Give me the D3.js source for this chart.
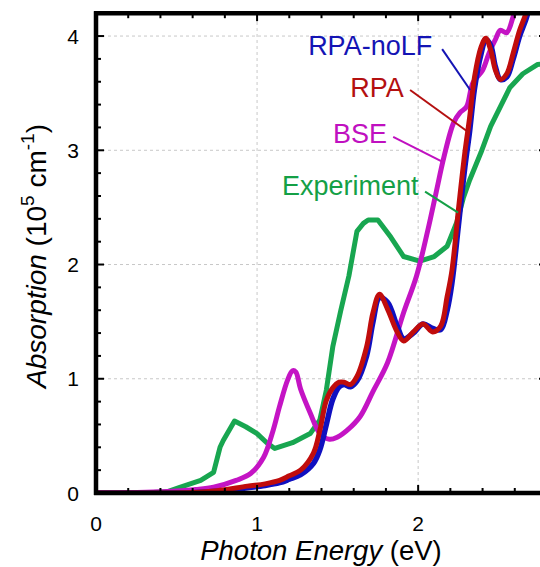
<!DOCTYPE html>
<html>
<head>
<meta charset="utf-8">
<script src="https://cdn.jsdelivr.net/npm/d3@7"></script>
<style>
  html, body { margin: 0; padding: 0; background: #fff; }
  svg { display: block; font-family: "Liberation Sans", Arial, Helvetica, sans-serif; }
</style>
</head>
<body>
<svg id="chart" width="540" height="567"></svg>
<script>
// Absorption spectra: measured vs. computed (RPA without local fields, RPA, BSE)

// Experiment
const expEnergy = [0, 0.30, 0.44, 0.52, 0.65, 0.73, 0.77, 0.79, 0.86, 0.93, 1.00, 1.06, 1.11, 1.22,
  1.33, 1.39, 1.43, 1.47, 1.52, 1.57, 1.62, 1.66, 1.69, 1.75, 1.83, 1.91, 2.01, 2.10, 2.18, 2.24,
  2.28, 2.32, 2.39, 2.45, 2.51, 2.57, 2.65, 2.74, 2.80];
const expAbs = [0, 0, 0.01, 0.05, 0.11, 0.18, 0.40, 0.46, 0.63, 0.58, 0.52, 0.44, 0.39, 0.44,
  0.52, 0.64, 0.90, 1.28, 1.60, 1.90, 2.29, 2.36, 2.39, 2.39, 2.24, 2.07, 2.03, 2.07, 2.16, 2.37,
  2.58, 2.74, 2.98, 3.21, 3.38, 3.55, 3.67, 3.75, 3.76];

// BSE
const bseEnergy = [0, 0.20, 0.40, 0.52, 0.62, 0.73, 0.87, 0.96, 1.04, 1.10, 1.14, 1.19, 1.22, 1.24, 1.27,
  1.33, 1.39, 1.45, 1.50, 1.56, 1.64, 1.72, 1.81, 1.91, 1.99, 2.06, 2.11, 2.16, 2.22, 2.26, 2.30, 2.34,
  2.40, 2.44, 2.48, 2.51, 2.55, 2.59, 2.63];
const bseAbs = [0, 0.002, 0.01, 0.02, 0.03, 0.05, 0.11, 0.17, 0.31, 0.55, 0.76, 0.99, 1.07, 1.06, 0.91,
  0.70, 0.52, 0.47, 0.49, 0.55, 0.67, 0.89, 1.14, 1.58, 1.90, 2.30, 2.62, 2.94, 3.24, 3.33, 3.38, 3.59,
  3.70, 3.85, 3.97, 4.05, 4.03, 4.17, 4.35];

// RPA and RPA-noLF share the energy grid
const rpaEnergy = [0, 0.30, 0.60, 0.75, 0.94, 1.05, 1.14, 1.20, 1.27, 1.35, 1.39, 1.43, 1.47, 1.51, 1.54, 1.58,
  1.62, 1.68, 1.72, 1.76, 1.81, 1.87, 1.91, 1.97, 2.03, 2.09, 2.14, 2.18, 2.21, 2.25, 2.29, 2.32, 2.35,
  2.39, 2.42, 2.45, 2.48, 2.51, 2.55, 2.59, 2.63, 2.67, 2.70];
const rpaAbs = [0, 0, 0.005, 0.02, 0.06, 0.08, 0.11, 0.15, 0.20, 0.35, 0.55, 0.81, 0.92, 0.97, 0.97, 0.95,
  1.02, 1.28, 1.58, 1.74, 1.61, 1.41, 1.33, 1.41, 1.48, 1.41, 1.46, 1.72, 1.95, 2.48, 2.98, 3.29, 3.64,
  3.90, 3.98, 3.88, 3.70, 3.62, 3.67, 3.85, 4.05, 4.20, 4.35];
const noLFAbs = [0, 0, 0.003, 0.015, 0.045, 0.065, 0.09, 0.12, 0.16, 0.26, 0.38, 0.60, 0.82, 0.93, 0.95, 0.93,
  0.98, 1.20, 1.50, 1.71, 1.67, 1.46, 1.35, 1.40, 1.48, 1.44, 1.43, 1.60, 1.84, 2.34, 2.85, 3.17, 3.54,
  3.84, 3.97, 3.92, 3.73, 3.62, 3.64, 3.80, 4.00, 4.15, 4.30];

// Axis ticks
const xTicks = [0, 1, 2];
const yTicks = [0, 1, 2, 3, 4];

// Series labels with leader lines (data units)
const labelText = ["RPA-noLF", "RPA", "BSE", "Experiment"];
const labelColor = ["#1414b4", "#b41010", "#c010c0", "#14a046"];
const labelPos = [[1.317, 3.834], [1.578, 3.467], [1.472, 3.066], [1.155, 2.611]];
const leaderFrom = [[2.149, 3.886], [1.950, 3.528], [1.845, 3.118], [2.043, 2.638]];
const leaderTo = [[2.323, 3.528], [2.317, 3.153], [2.149, 2.900], [2.248, 2.454]];

const svg = d3.select("#chart");
const plotLeft = 96, plotRight = 547, plotTop = 13.2, plotBottom = 493;

const x = d3.scaleLinear().domain([0, 2.8]).range([plotLeft, plotRight]);
const y = d3.scaleLinear().domain([0, 4.2]).range([plotBottom, plotTop]);

svg.append("rect").attr("width", 540).attr("height", 567).attr("fill", "#fff");

// grid
const grid = svg.append("g").attr("stroke", "#c8c8c8").attr("stroke-width", 1).attr("stroke-dasharray", "3,3");
[1, 2].forEach(v => grid.append("line").attr("x1", x(v)).attr("x2", x(v)).attr("y1", plotBottom).attr("y2", plotTop));
[1, 2, 3, 4].forEach(v => grid.append("line").attr("x1", plotLeft).attr("x2", plotRight).attr("y1", y(v)).attr("y2", y(v)));

// curves
svg.append("defs").append("clipPath").attr("id", "plotClip")
  .append("rect").attr("x", plotLeft).attr("y", plotTop).attr("width", plotRight - plotLeft).attr("height", plotBottom - plotTop);

const plot = svg.append("g").attr("clip-path", "url(#plotClip)");
const smooth = d3.line().x(d => x(d[0])).y(d => y(d[1])).curve(d3.curveCatmullRom.alpha(0.5));
const straight = d3.line().x(d => x(d[0])).y(d => y(d[1])).curve(d3.curveLinear);

const zip = (a, b) => a.map((v, i) => [v, b[i]]);

plot.append("path").datum(zip(expEnergy, expAbs)).attr("d", straight)
  .attr("fill", "none").attr("stroke", "#18a650").attr("stroke-width", 5).attr("stroke-linejoin", "round");
plot.append("path").datum(zip(bseEnergy, bseAbs)).attr("d", smooth)
  .attr("fill", "none").attr("stroke", "#c414c4").attr("stroke-width", 5).attr("stroke-linejoin", "round");
plot.append("path").datum(zip(rpaEnergy, noLFAbs)).attr("d", smooth)
  .attr("fill", "none").attr("stroke", "#1010c0").attr("stroke-width", 5.5).attr("stroke-linejoin", "round");
plot.append("path").datum(zip(rpaEnergy, rpaAbs)).attr("d", smooth)
  .attr("fill", "none").attr("stroke", "#c00c0c").attr("stroke-width", 5).attr("stroke-linejoin", "round");

// leader lines and labels
labelText.forEach((t, i) => {
  svg.append("line")
    .attr("x1", x(leaderFrom[i][0])).attr("y1", y(leaderFrom[i][1]))
    .attr("x2", x(leaderTo[i][0])).attr("y2", y(leaderTo[i][1]))
    .attr("stroke", labelColor[i]).attr("stroke-width", 2);
  svg.append("text").attr("x", x(labelPos[i][0])).attr("y", y(labelPos[i][1]))
    .attr("fill", labelColor[i]).attr("font-size", 27).text(t);
});

// frame and ticks
const frame = svg.append("g").attr("stroke", "#000").attr("fill", "none");
frame.append("line").attr("x1", plotLeft).attr("x2", plotLeft).attr("y1", plotTop - 2).attr("y2", plotBottom + 2).attr("stroke-width", 4.5);
frame.append("line").attr("x1", plotLeft - 2).attr("x2", plotRight + 2).attr("y1", plotBottom).attr("y2", plotBottom).attr("stroke-width", 4.5);
frame.append("line").attr("x1", plotLeft - 2).attr("x2", plotRight + 2).attr("y1", plotTop).attr("y2", plotTop).attr("stroke-width", 4.5);
frame.append("line").attr("x1", plotRight).attr("x2", plotRight).attr("y1", plotTop - 2).attr("y2", plotBottom + 2).attr("stroke-width", 4.5);

const xMinor = d3.range(0, 2.81, 0.2);
const yMinor = d3.range(0, 4.21, 0.2);
const isMajor = v => Math.abs(v - Math.round(v)) < 1e-6;
xMinor.forEach(v => {
  const len = isMajor(v) ? 8 : 5;
  frame.append("line").attr("x1", x(v)).attr("x2", x(v)).attr("y1", plotBottom).attr("y2", plotBottom - len).attr("stroke-width", 2);
  frame.append("line").attr("x1", x(v)).attr("x2", x(v)).attr("y1", plotTop).attr("y2", plotTop + len).attr("stroke-width", 2);
});
yMinor.forEach(v => {
  const len = isMajor(v) ? 8 : 5;
  frame.append("line").attr("x1", plotLeft).attr("x2", plotLeft + len).attr("y1", y(v)).attr("y2", y(v)).attr("stroke-width", 2);
  frame.append("line").attr("x1", plotRight).attr("x2", plotRight - len).attr("y1", y(v)).attr("y2", y(v)).attr("stroke-width", 2);
});

// tick labels
svg.append("g").selectAll("text").data(xTicks).join("text")
  .attr("x", d => x(d)).attr("y", 531).attr("text-anchor", "middle")
  .attr("font-size", 21).attr("fill", "#000").text(d => d);
svg.append("g").selectAll("text").data(yTicks).join("text")
  .attr("x", 79).attr("y", d => y(d)).attr("dy", "0.36em").attr("text-anchor", "end")
  .attr("font-size", 21).attr("fill", "#000").text(d => d);

// axis titles
const xt = svg.append("text").attr("x", 321).attr("y", 560).attr("text-anchor", "middle")
  .attr("font-size", 27.5).attr("fill", "#000");
xt.append("tspan").attr("font-style", "italic").text("Photon Energy");
xt.append("tspan").text(" (eV)");

const yt = svg.append("text").attr("transform", "translate(46,256) rotate(-90)")
  .attr("text-anchor", "middle").attr("font-size", 28).attr("fill", "#000");
yt.append("tspan").attr("font-style", "italic").text("Absorption");
yt.append("tspan").text(" (10");
yt.append("tspan").attr("font-size", 19).attr("dy", -12).text("5");
yt.append("tspan").attr("dy", 12).text(" cm");
yt.append("tspan").attr("font-size", 19).attr("dy", -12).text("-1");
yt.append("tspan").attr("dy", 12).text(")");
</script>
</body>
</html>
